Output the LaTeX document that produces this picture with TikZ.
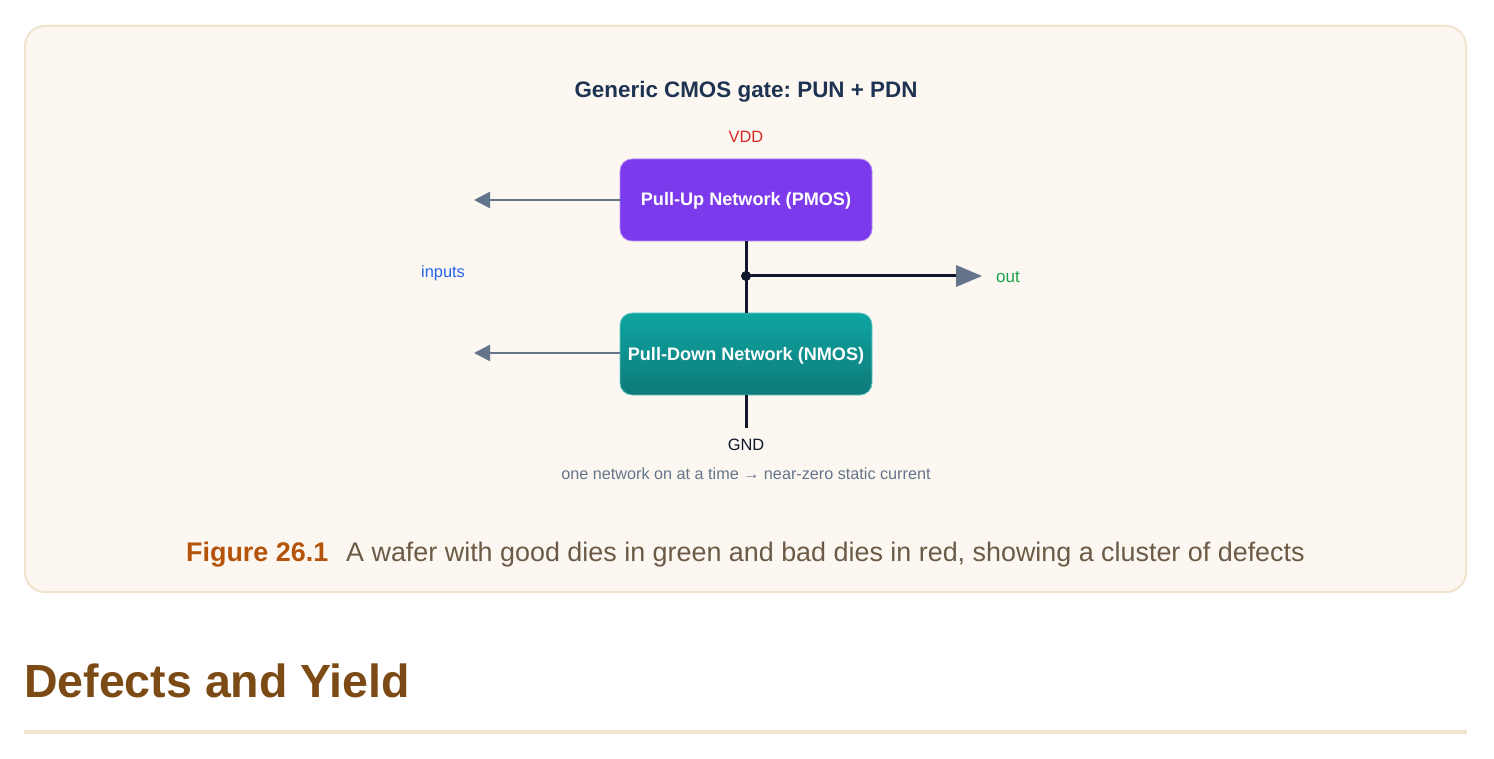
\documentclass[tikz,border=0pt]{standalone}
\usepackage{fontspec}
\setmainfont{Liberation Sans}
\frenchspacing
\usetikzlibrary{arrows.meta}
\definecolor{panelfill}{HTML}{FCF8F1}
\definecolor{panelline}{HTML}{F0E3CF}
\definecolor{navy}{HTML}{1E3352}
\definecolor{vddred}{HTML}{DC2626}
\definecolor{purp}{HTML}{7C3AED}
\definecolor{tealtop}{HTML}{0EA5A2}
\definecolor{tealbot}{HTML}{0E7A78}
\definecolor{slate}{HTML}{64748B}
\definecolor{wire}{HTML}{0F172A}
\definecolor{inblue}{HTML}{2563EB}
\definecolor{outgreen}{HTML}{16A34A}
\definecolor{figorange}{HTML}{B45309}
\definecolor{captxt}{HTML}{6B5A45}
\definecolor{headbrown}{HTML}{7C4A14}
\tikzset{
  netbox/.style={rounded corners=12pt, minimum width=252pt, minimum height=82pt, text=white, font=\bfseries\fontsize{18.1}{21}\selectfont, inner sep=0pt, text height=12pt, text depth=0pt},
  inarrow/.style={draw=slate, line width=2.6pt, -{Triangle[length=16pt,width=16pt]}},
  wireline/.style={draw=wire, line width=3pt},
  lbl/.style={inner sep=0pt, font=\fontsize{16.4}{19}\selectfont}
}
\begin{document}
\begin{tikzpicture}[x=1pt,y=-1pt]
\useasboundingbox (0,0) rectangle (1494,759);
\fill[white] (0,0) rectangle (1494,759);
\draw[panelline, fill=panelfill, line width=2pt, rounded corners=20pt] (25,26) rectangle (1466,592);
\node[inner sep=0pt, text=navy, font=\bfseries\fontsize{22.4}{26}\selectfont] (title) at (746,92) {Generic CMOS gate: PUN + PDN};
\node[lbl, text=vddred] (vdd) at (746,137) {VDD};
\node[netbox, fill=purp, draw=purp!60!white, line width=0.8pt] (pun) at (746,200) {Pull-Up Network (PMOS)};
\node[netbox, top color=tealtop, bottom color=tealbot, draw=tealtop!60!white, line width=0.8pt] (pdn) at (746,354) {Pull-Down Network (NMOS)};
\coordinate (inA) at (474,200);
\coordinate (inB) at (474,353);
\draw[inarrow] (pun.west |- inA) -- (inA);
\draw[inarrow] (pdn.west |- inB) -- (inB);
\node[lbl, text=inblue] (inputs) at (443,273) {inputs};
\coordinate (mid) at (746,276);
\coordinate (outend) at (982,276);
\draw[wireline] (pun.south) -- (pdn.north);
\fill[wire] (mid) circle (5pt);
\draw[wireline] (mid) -- ([xshift=-24pt]outend);
\draw[slate, line width=0pt, -{Triangle[length=26pt,width=22pt]}] ([xshift=-26pt]outend) -- (outend);
\node[lbl, text=outgreen, font=\fontsize{17}{20}\selectfont] (out) at (1008,277) {out};
\coordinate (gndtop) at (746,428);
\draw[wireline] (pdn.south) -- (gndtop);
\node[lbl, text=wire] (gnd) at (746,445) {GND};
\node[lbl, text=slate, font=\fontsize{16.2}{19}\selectfont] (note) at (746,474) {one network on at a time → near-zero static current};
\node[inner sep=0pt, anchor=base west, font=\fontsize{26.9}{31}\selectfont] (cap) at (186,561) {\textcolor{figorange}{\bfseries Figure 26.1}\hspace{18pt}\textcolor{captxt}{A wafer with good dies in green and bad dies in red, showing a cluster of defects}};
\node[inner sep=0pt, anchor=base west, text=headbrown, font=\bfseries\fontsize{46.5}{52}\selectfont] (head) at (24,697) {Defects and Yield};
\fill[panelline] (24,730) rectangle (1467,734);
\end{tikzpicture}
\end{document}
